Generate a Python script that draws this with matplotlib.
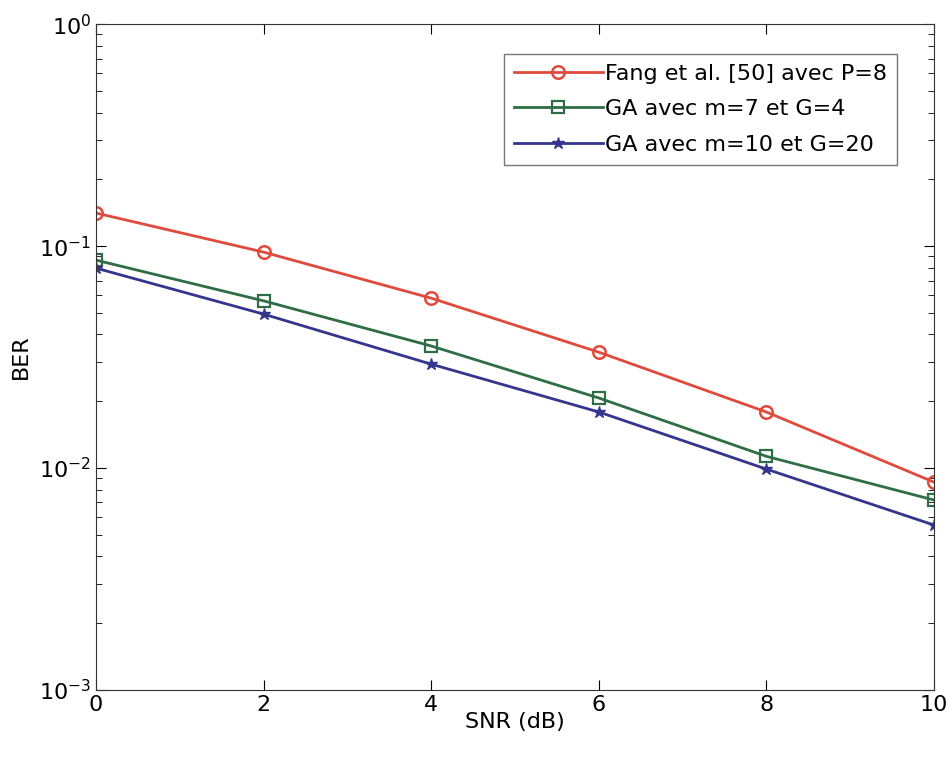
import matplotlib
matplotlib.use("Agg")
import matplotlib.pyplot as plt
import numpy as np

snr = [0, 2, 4, 6, 8, 10]
ber_fang = [0.141, 0.094, 0.0583, 0.0333, 0.0179, 0.00865]
ber_ga_7_4 = [0.0865, 0.0567, 0.0355, 0.0207, 0.0113, 0.00718]
ber_ga_10_20 = [0.0796, 0.0494, 0.0294, 0.0179, 0.0099, 0.00554]
labels = ["Fang et al. [50] avec P=8", "GA avec m=7 et G=4", "GA avec m=10 et G=20"]

plt.rcParams['font.family'] = ['DejaVu Sans']
fig = plt.figure(figsize=(9.49, 7.57), dpi=100)
ax = fig.add_axes([0.1012, 0.0885, 0.8828, 0.8795])

ax.semilogy(snr, ber_fang, color='#e04a3c', lw=2, marker='o', ms=9, mfc='none', mew=1.8, label=labels[0])
ax.semilogy(snr, ber_ga_7_4, color='#2f6e45', lw=2, marker='s', ms=8, mfc='none', mew=1.6, label=labels[1])
ax.semilogy(snr, ber_ga_10_20, color='#34358c', lw=2, marker='*', ms=9, label=labels[2])

ax.set_xlim(0, 10)
ax.set_ylim(1e-3, 1)
ax.set_xticks([0, 2, 4, 6, 8, 10])
ax.tick_params(which='both', direction='in', top=True, right=True, labelsize=16)
ax.tick_params(which='major', length=7)
ax.tick_params(which='minor', length=4)
ax.set_xlabel('SNR (dB)', fontsize=16, labelpad=-2)
ax.set_ylabel('BER', fontsize=16, labelpad=6)
for s in ax.spines.values():
    s.set_color('#333333')

leg = ax.legend(loc='upper right', bbox_to_anchor=(0.956, 0.956), fontsize=16,
                fancybox=False, edgecolor='#555555',
                handlelength=4.0, handletextpad=0.1, borderaxespad=0.0, labelspacing=0.7,
                borderpad=0.45)
leg.get_frame().set_linewidth(1.0)

fig.savefig('out.png', dpi=100)
